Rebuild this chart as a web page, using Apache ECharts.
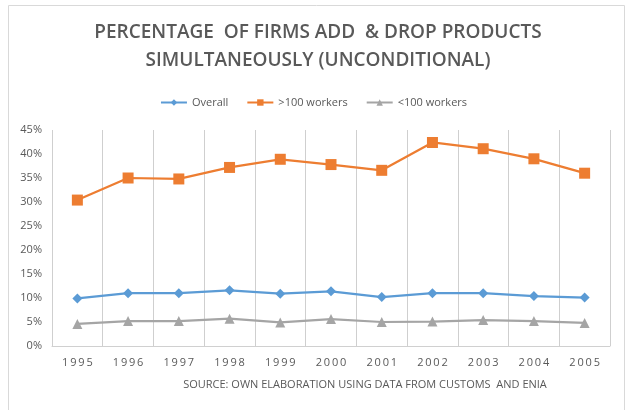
<!DOCTYPE html>
<html><head><meta charset="utf-8">
<script src="https://cdn.jsdelivr.net/npm/echarts@6/dist/echarts.min.js"></script>
<style>html,body{margin:0;padding:0;background:#fff}#c{width:627px;height:410px}</style>
</head><body><div id="c"></div>
<script>
const years = ['1995','1996','1997','1998','1999','2000','2001','2002','2003','2004','2005'];
const overall = [9.9, 11.0, 11.0, 11.6, 10.9, 11.4, 10.2, 11.0, 11.0, 10.4, 10.1];
const large = [30.4, 35.0, 34.8, 37.2, 38.9, 37.8, 36.6, 42.4, 41.1, 39.0, 36.0];
const small = [4.6, 5.2, 5.2, 5.7, 4.9, 5.6, 5.0, 5.1, 5.4, 5.2, 4.8];
const seriesNames = ['Overall', '>100 workers', '<100 workers'];
const titleLines = ['PERCENTAGE  OF FIRMS ADD  & DROP PRODUCTS', 'SIMULTANEOUSLY (UNCONDITIONAL)'];
const sourceText = 'SOURCE: OWN ELABORATION USING DATA FROM CUSTOMS  AND ENIA';

const chart = echarts.init(document.getElementById('c'), null, {renderer: 'canvas'});
const F = 'Open Sans';
chart.setOption({
  animation: false,
  graphic: [
    {type: 'rect', shape: {x: 8.5, y: 5.5, width: 616, height: 420}, style: {fill: 'none', stroke: '#d9d9d9', lineWidth: 1}},
    {type: 'text', x: 318, y: 33, style: {text: titleLines[0], font: '600 19px "Open Sans"', fill: '#595959', align: 'center', verticalAlign: 'middle'}},
    {type: 'text', x: 318, y: 61, style: {text: titleLines[1], font: '600 19px "Open Sans"', fill: '#595959', align: 'center', verticalAlign: 'middle'}},
    {type: 'text', x: 365, y: 385, style: {text: sourceText, font: '11px "Open Sans"', fill: '#595959', align: 'center', verticalAlign: 'middle'}}
  ],
  legend: {
    top: 92, left: 'center', itemGap: 18, itemWidth: 26, itemHeight: 8,
    textStyle: {fontFamily: F, fontSize: 11, color: '#595959'},
    data: seriesNames
  },
  grid: {left: 52, right: 17, top: 130, bottom: 64},
  xAxis: {
    type: 'category', data: years, boundaryGap: true,
    axisLine: {lineStyle: {color: '#d0d0d0'}},
    axisTick: {show: false},
    splitLine: {show: true, interval: 0, lineStyle: {color: '#cfcfcf', width: 1, type: 'solid'}},
    axisLabel: {fontFamily: F, fontSize: 11, color: '#595959', margin: 11, interval: 0,
      formatter: v => v.split('').join('\u2009')}
  },
  yAxis: {
    type: 'value', min: 0, max: 45, interval: 5,
    axisLine: {show: false}, axisTick: {show: false},
    splitLine: {show: false},
    axisLabel: {fontFamily: F, fontSize: 11, color: '#595959', formatter: '{value}%', margin: 10}
  },
  series: [
    {name: seriesNames[0], type: 'line', data: overall, symbol: 'diamond', symbolSize: 10,
      itemStyle: {color: '#5B9BD5'}, lineStyle: {width: 2.25, color: '#5B9BD5'}},
    {name: seriesNames[1], type: 'line', data: large, symbol: 'rect', symbolSize: 11,
      itemStyle: {color: '#ED7D31'}, lineStyle: {width: 2.25, color: '#ED7D31'}},
    {name: seriesNames[2], type: 'line', data: small, symbol: 'triangle', symbolSize: 10,
      itemStyle: {color: '#A5A5A5'}, lineStyle: {width: 2.25, color: '#A5A5A5'}}
  ]
});
</script></body></html>
